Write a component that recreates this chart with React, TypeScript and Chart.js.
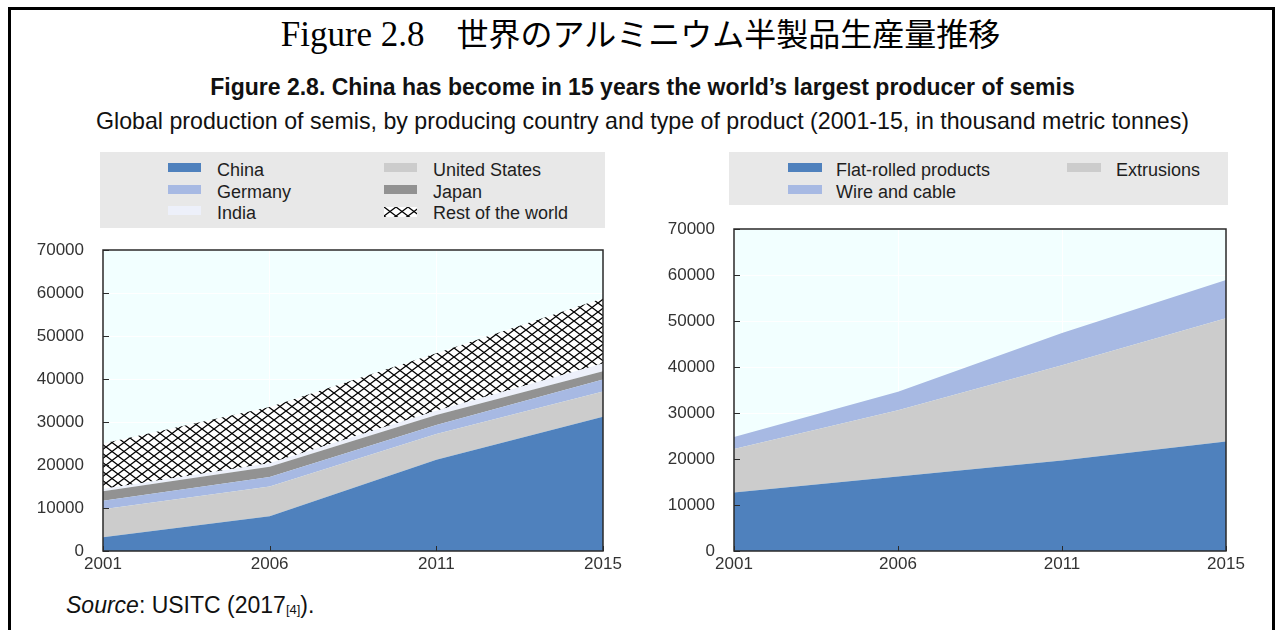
import React, { useEffect, useRef } from "react";
import { Chart, registerables } from "chart.js";

Chart.register(...registerables);

// ---------- data ----------
const years = ["2001", "2006", "2011", "2015"];

const countryNames = ["China", "United States", "Germany", "Japan", "India", "Rest of the world"];
const china = [3200, 8100, 21200, 31200];
const unitedStates = [6500, 6900, 6000, 5900];
const germany = [2000, 2200, 2100, 2800];
const japan = [2200, 2400, 2300, 1900];
const india = [500, 800, 1000, 1800];
const restOfWorld = [10600, 13100, 13400, 15200];

const productNames = ["Flat-rolled products", "Extrusions", "Wire and cable"];
const flatRolled = [12700, 16200, 19700, 23800];
const extrusions = [9500, 14400, 20700, 26800];
const wireCable = [2600, 4000, 7000, 8300];

const yMin = 0;
const yMax = 70000;
const yStep = 10000;

// ---------- styles ----------
const SANS = '"Liberation Sans", Arial, sans-serif';
const C_CHINA = "#4F81BD";
const C_US = "#CCCCCC";
const C_GERMANY = "#A7B9E3";
const C_JAPAN = "#929292";
const C_INDIA = "#EDF0FA";
const PLOT_BG = "#F2FFFF";

function drawHatch(ctx: CanvasRenderingContext2D, w: number, h: number) {
  ctx.fillStyle = "#FFFFFF";
  ctx.fillRect(0, 0, w, h);
  ctx.strokeStyle = "#000000";
  ctx.lineWidth = 1.3;
  ctx.beginPath();
  ctx.moveTo(0, 0);
  ctx.lineTo(w, h);
  ctx.moveTo(w, 0);
  ctx.lineTo(0, h);
  ctx.stroke();
}

function makeHatchPattern(): CanvasPattern | string {
  const c = document.createElement("canvas");
  c.width = 12;
  c.height = 9;
  const ctx = c.getContext("2d");
  if (!ctx) return "#ffffff";
  drawHatch(ctx, 12, 9);
  const p = ctx.createPattern(c, "repeat");
  return p || "#ffffff";
}

const framePlugin = {
  id: "frame",
  beforeDraw(chart: any) {
    const { ctx, chartArea: a } = chart;
    ctx.save();
    ctx.fillStyle = PLOT_BG;
    ctx.fillRect(a.left, a.top, a.right - a.left, a.bottom - a.top);
    ctx.restore();
  },
  afterDatasetsDraw(chart: any) {
    const { ctx, chartArea: a, scales } = chart;
    ctx.save();
    ctx.strokeStyle = "#2a2a2a";
    ctx.lineWidth = 1;
    ctx.beginPath();
    scales.y.ticks.forEach((t: any) => {
      const y = Math.round(scales.y.getPixelForValue(t.value)) + 0.5;
      ctx.moveTo(a.left, y);
      ctx.lineTo(a.left + 6, y);
    });
    scales.x.ticks.forEach((_t: any, i: number) => {
      const x = Math.round(scales.x.getPixelForTick(i)) + 0.5;
      ctx.moveTo(x, a.bottom);
      ctx.lineTo(x, a.bottom - 5);
    });
    ctx.stroke();
    ctx.lineWidth = 1.5;
    ctx.strokeRect(a.left, a.top, a.right - a.left, a.bottom - a.top);
    ctx.restore();
  },
};

type Series = { label: string; data: number[]; color: string | "hatch" };

function zeroPadding(s: any) {
  s.paddingTop = 0;
  s.paddingBottom = 0;
  s.paddingLeft = 0;
  s.paddingRight = 0;
}

function AreaChart(props: {
  series: Series[];
  left: number;
  top: number;
  width: number;
  height: number;
  padTop: number;
  padRight: number;
  yWidth: number;
  xHeight: number;
}) {
  const ref = useRef<HTMLCanvasElement | null>(null);
  useEffect(() => {
    if (!ref.current) return;
    const hatch = makeHatchPattern();
    const datasets = props.series.map((s, i) => ({
      label: s.label,
      data: s.data,
      backgroundColor: s.color === "hatch" ? hatch : s.color,
      borderWidth: 0,
      pointRadius: 0,
      fill: i === 0 ? "origin" : "-1",
      tension: 0,
    }));
    const chart = new Chart(ref.current, {
      type: "line",
      data: { labels: years, datasets: datasets as any },
      options: {
        animation: false,
        responsive: false,
        devicePixelRatio: 1,
        layout: { padding: { top: props.padTop, right: props.padRight, left: 0, bottom: 0 } },
        plugins: {
          legend: { display: false },
          tooltip: { enabled: false },
          title: { display: false },
        },
        scales: {
          x: {
            type: "category",
            offset: false,
            grid: { color: "#FFFFFF", drawTicks: false, lineWidth: 1 },
            border: { display: false },
            ticks: {
              color: "#333333",
              font: { family: SANS, size: 17 },
              padding: 3,
              maxRotation: 0,
              autoSkip: false,
            },
            afterFit: (s: any) => {
              s.height = props.xHeight;
              zeroPadding(s);
            },
          },
          y: {
            stacked: true,
            min: yMin,
            max: yMax,
            grid: { color: "#FFFFFF", drawTicks: false, lineWidth: 1 },
            border: { display: false },
            ticks: {
              stepSize: yStep,
              color: "#333333",
              font: { family: SANS, size: 17 },
              padding: 19,
              callback: (v: any) => String(v),
            },
            afterFit: (s: any) => {
              s.width = props.yWidth;
              zeroPadding(s);
            },
          },
        },
      },
      plugins: [framePlugin],
    });
    return () => chart.destroy();
  }, []);
  return (
    <canvas
      ref={ref}
      width={props.width}
      height={props.height}
      style={{ position: "absolute", left: props.left, top: props.top, width: props.width, height: props.height }}
    />
  );
}

function HatchSwatch(props: { left: number; top: number; w: number; h: number }) {
  const ref = useRef<HTMLCanvasElement | null>(null);
  useEffect(() => {
    const c = ref.current;
    if (!c) return;
    const ctx = c.getContext("2d");
    if (!ctx) return;
    const p = makeHatchPattern();
    ctx.fillStyle = p as any;
    ctx.fillRect(0, 0, props.w, props.h);
  }, []);
  return (
    <canvas
      ref={ref}
      width={props.w}
      height={props.h}
      style={{ position: "absolute", left: props.left, top: props.top, width: props.w, height: props.h }}
    />
  );
}

type LegendItem = { label: string; color: string; x: number; tx: number; cy: number };

function LegendBox(props: { left: number; top: number; width: number; height: number; items: LegendItem[]; swW: number }) {
  return (
    <>
      <div
        style={{
          position: "absolute",
          left: props.left,
          top: props.top,
          width: props.width,
          height: props.height,
          background: "#E8E8E8",
        }}
      />
      {props.items.map((it) => (
        <React.Fragment key={it.label}>
          {it.color === "hatch" ? (
            <HatchSwatch left={it.x} top={it.cy - 6} w={props.swW} h={10} />
          ) : (
            <div
              style={{
                position: "absolute",
                left: it.x,
                top: it.cy - 7,
                width: props.swW,
                height: 9,
                background: it.color,
              }}
            />
          )}
          <div
            style={{
              position: "absolute",
              left: it.tx,
              top: it.cy - 11,
              height: 22,
              lineHeight: "22px",
              fontFamily: SANS,
              fontSize: 18,
              color: "#1e1e1e",
              whiteSpace: "nowrap",
            }}
          >
            {it.label}
          </div>
        </React.Fragment>
      ))}
    </>
  );
}

export default function App() {
  const leftSeries: Series[] = [
    { label: countryNames[0], data: china, color: C_CHINA },
    { label: countryNames[1], data: unitedStates, color: C_US },
    { label: countryNames[2], data: germany, color: C_GERMANY },
    { label: countryNames[3], data: japan, color: C_JAPAN },
    { label: countryNames[4], data: india, color: C_INDIA },
    { label: countryNames[5], data: restOfWorld, color: "hatch" },
  ];
  const rightSeries: Series[] = [
    { label: productNames[0], data: flatRolled, color: C_CHINA },
    { label: productNames[1], data: extrusions, color: C_US },
    { label: productNames[2], data: wireCable, color: C_GERMANY },
  ];

  const leftLegend: LegendItem[] = [
    { label: countryNames[0], color: C_CHINA, x: 168, tx: 217, cy: 170 },
    { label: countryNames[2], color: C_GERMANY, x: 168, tx: 217, cy: 191.5 },
    { label: countryNames[4], color: C_INDIA, x: 168, tx: 217, cy: 213 },
    { label: countryNames[1], color: C_US, x: 384, tx: 433, cy: 170 },
    { label: countryNames[3], color: C_JAPAN, x: 384, tx: 433, cy: 191.5 },
    { label: countryNames[5], color: "hatch", x: 384, tx: 433, cy: 213 },
  ];
  const rightLegend: LegendItem[] = [
    { label: productNames[0], color: C_CHINA, x: 788, tx: 836, cy: 170 },
    { label: productNames[2], color: C_GERMANY, x: 788, tx: 836, cy: 191.5 },
    { label: productNames[1], color: C_US, x: 1067, tx: 1116, cy: 170 },
  ];

  return (
    <div
      style={{
        position: "absolute",
        left: 0,
        top: 0,
        width: 1281,
        height: 630,
        overflow: "hidden",
        background: "#FFFFFF",
      }}
    >
      <div
        style={{
          position: "absolute",
          left: 8,
          top: 7,
          width: 1267,
          height: 700,
          boxSizing: "border-box",
          border: "3px solid #000",
        }}
      />
      <div
        style={{
          position: "absolute",
          left: 0,
          top: 14,
          width: 1281,
          textAlign: "center",
          fontFamily: '"Liberation Serif", "Noto Sans CJK JP", serif',
          fontSize: 32,
          lineHeight: "42px",
          color: "#000",
          whiteSpace: "nowrap",
        }}
      >
        <span style={{ fontSize: 35 }}>Figure 2.8</span>　世界のアルミニウム半製品生産量推移
      </div>
      <div
        style={{
          position: "absolute",
          left: 2,
          top: 73,
          width: 1281,
          textAlign: "center",
          fontFamily: SANS,
          fontWeight: "bold",
          fontSize: 23,
          lineHeight: "28px",
          color: "#111",
          whiteSpace: "nowrap",
        }}
      >
        Figure 2.8. China has become in 15 years the world’s largest producer of semis
      </div>
      <div
        style={{
          position: "absolute",
          left: 2,
          top: 107,
          width: 1281,
          textAlign: "center",
          fontFamily: SANS,
          fontSize: 23.2,
          lineHeight: "28px",
          color: "#111",
          whiteSpace: "nowrap",
        }}
      >
        Global production of semis, by producing country and type of product (2001-15, in thousand metric tonnes)
      </div>

      <LegendBox left={100} top={152} width={505} height={76} items={leftLegend} swW={33} />
      <LegendBox left={729} top={152} width={499} height={53} items={rightLegend} swW={34} />

      <AreaChart
        series={leftSeries}
        left={10}
        top={240}
        width={630}
        height={345}
        padTop={10}
        padRight={37}
        yWidth={93}
        xHeight={34}
      />
      <AreaChart
        series={rightSeries}
        left={650}
        top={219}
        width={620}
        height={366}
        padTop={10}
        padRight={44}
        yWidth={84}
        xHeight={34}
      />

      <div
        style={{
          position: "absolute",
          left: 66,
          top: 591,
          lineHeight: "28px",
          fontFamily: SANS,
          fontSize: 23,
          color: "#111",
          whiteSpace: "nowrap",
        }}
      >
        <i>Source</i>: USITC (2017<span style={{ fontSize: 13, verticalAlign: "-1px" }}>[4]</span>).
      </div>
    </div>
  );
}
